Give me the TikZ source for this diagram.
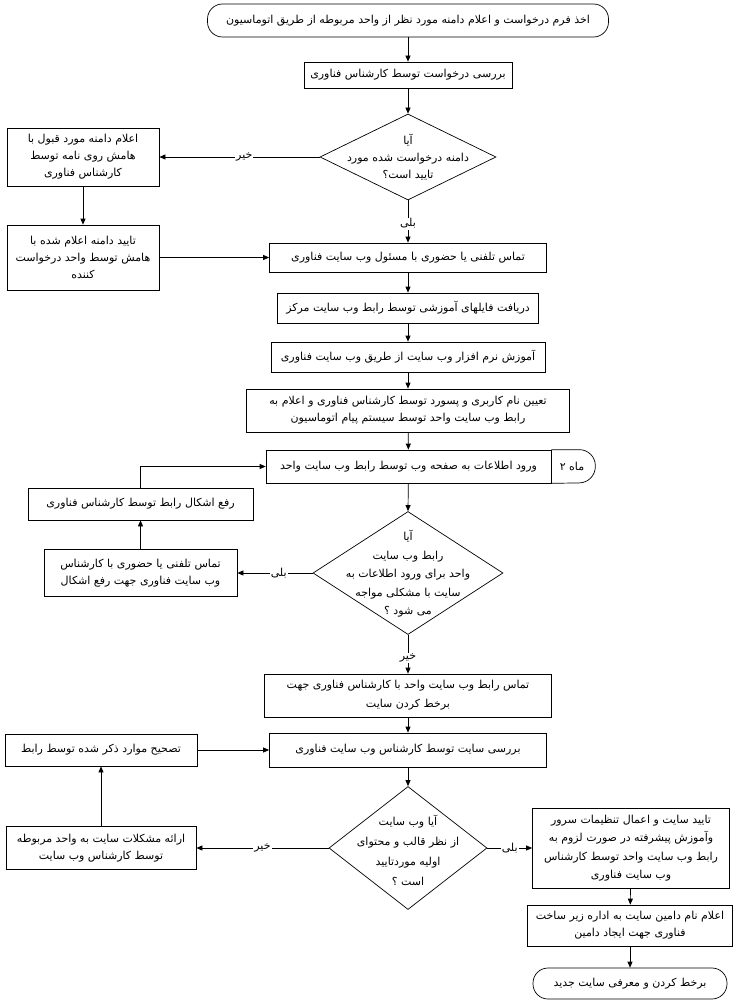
\documentclass[tikz,border=0pt]{standalone}
\usepackage{fontspec}
\usetikzlibrary{shapes.geometric,arrows.meta}
\newfontfamily\arabicfont[Script=Arabic]{DejaVu Sans}
\TeXXeTstate=1
\newcommand\rl[1]{\beginR #1\endR}
\begin{document}
\begin{tikzpicture}[x=1pt,y=-1pt,
  every node/.style={font=\arabicfont\fontsize{11}{17}\selectfont},
  box/.style={draw, line width=0.7pt, inner sep=0pt, align=center},
  term/.style={box, rounded corners=15pt},
  dia/.style={draw, diamond, line width=0.7pt, inner sep=0pt},
  dtext/.style={align=center, inner sep=0pt},
  wide/.style={font=\arabicfont\fontsize{11}{20}\selectfont},
  arr/.style={line width=0.7pt, -{Triangle[length=6pt,width=5pt]}},
  lbl/.style={fill=white, inner sep=1pt}]
\useasboundingbox (0,0) rectangle (737,1006);

% main column
\node[term, minimum width=401pt, minimum height=33pt] (start) at (408,20.5)
  {\rl{اخذ فرم درخواست و اعلام دامنه مورد نظر از واحد مربوطه از طریق اتوماسیون}};
\node[box, minimum width=208pt, minimum height=26pt] (n2) at (408,75)
  {\rl{بررسی درخواست توسط کارشناس فناوری}};
\node[dia, minimum width=176pt, minimum height=86pt] (d1) at (408,157) {};
\node[dtext] (d1t) at (408,157) {\rl{آیا}\\\rl{دامنه درخواست شده مورد}\\\rl{تایید است؟}};
\node[box, minimum width=152pt, minimum height=58pt] (l1) at (83,157)
  {\rl{اعلام دامنه مورد قبول با}\\\rl{هامش روی نامه توسط}\\\rl{کارشناس فناوری}};
\node[box, minimum width=152pt, minimum height=65pt] (l2) at (83,257.5)
  {\rl{تایید دامنه اعلام شده با}\\\rl{هامش توسط واحد درخواست}\\\rl{کننده}};
\node[box, minimum width=277pt, minimum height=29pt] (n6) at (408,257.5)
  {\rl{تماس تلفنی یا حضوری با مسئول وب سایت فناوری}};
\node[box, minimum width=261pt, minimum height=30pt] (n7) at (408,308)
  {\rl{دریافت فایلهای آموزشی توسط رابط وب سایت مرکز}};
\node[box, minimum width=274pt, minimum height=30pt] (n8) at (408,357)
  {\rl{آموزش نرم افزار وب سایت از طریق وب سایت فناوری}};
\node[box, minimum width=323pt, minimum height=43pt] (n9) at (408,410.5)
  {\rl{تعیین  نام کاربری و پسورد توسط کارشناس فناوری و اعلام به}\\\rl{رابط وب سایت واحد توسط سیستم پیام اتوماسیون}};
\node[box, minimum width=285pt, minimum height=33pt] (n10) at (408.5,466.5)
  {\rl{ورود اطلاعات به صفحه وب توسط رابط وب سایت واحد}};
\draw[line width=0.7pt, rounded corners=16pt] (n10.north east) -- ++(44,0) -- ++(0,33) -- (n10.south east);
\node[inner sep=0pt] (delay) at (572,466.5) {\rl{ماه ۲}};
\node[box, minimum width=225pt, minimum height=32pt] (n11) at (140.5,504)
  {\rl{رفع اشکال رابط توسط کارشناس فناوری}};
\node[dia, minimum width=190pt, minimum height=123pt] (d2) at (408,573) {};
\node[dtext, font=\arabicfont\fontsize{11}{18.5}\selectfont] (d2t) at (408,574) {\rl{آیا}\\\rl{رابط وب سایت}\\\rl{واحد برای ورود اطلاعات به}\\\rl{سایت با مشکلی مواجه}\\\rl{می شود ؟}};
\node[box, minimum width=193pt, minimum height=47pt] (n13) at (140.5,573)
  {\rl{تماس تلفنی یا حضوری با کارشناس}\\\rl{وب سایت فناوری جهت رفع اشکال}};
\node[box, minimum width=287pt, minimum height=43pt, font=\arabicfont\fontsize{11}{19}\selectfont] (n14) at (408,695.5)
  {\rl{تماس رابط وب سایت واحد با کارشناس فناوری جهت}\\\rl{برخط کردن سایت}};
\node[box, minimum width=277pt, minimum height=34pt] (n15) at (408,750)
  {\rl{بررسی سایت توسط کارشناس وب سایت فناوری}};
\node[box, minimum width=192pt, minimum height=32pt] (n16) at (101,750)
  {\rl{تصحیح موارد ذکر شده توسط رابط}};
\node[dia, minimum width=158pt, minimum height=123pt] (d3) at (408,848) {};
\node[dtext, wide] (d3t) at (408,850) {\rl{آیا وب سایت}\\\rl{از نظر قالب و محتوای}\\\rl{اولیه موردتایید}\\\rl{است ؟}};
\node[box, minimum width=190pt, minimum height=43pt] (n18) at (101,848)
  {\rl{ارائه مشکلات سایت به واحد مربوطه}\\\rl{توسط کارشناس وب سایت}};
\node[box, minimum width=197pt, minimum height=80pt, font=\arabicfont\fontsize{11}{18.5}\selectfont] (n19) at (631,848)
  {\rl{تایید سایت و اعمال تنظیمات سرور}\\\rl{وآموزش پیشرفته در صورت لزوم به}\\\rl{رابط وب سایت واحد توسط کارشناس}\\\rl{وب سایت فناوری}};
\node[box, minimum width=205pt, minimum height=41pt] (n20) at (630,925.5)
  {\rl{اعلام نام دامین سایت به اداره زیر ساخت}\\\rl{فناوری جهت ایجاد دامین}};
\node[term, minimum width=194pt, minimum height=31pt] (end) at (630,983.5)
  {\rl{برخط کردن و معرفی سایت جدید}};

% connectors
\draw[arr] (start) -- (n2);
\draw[arr] (n2) -- (d1);
\draw[arr] (d1.west) -- node[lbl, pos=0.47] {\rl{خیر}} (l1.east);
\draw[arr] (d1.south) -- node[lbl, pos=0.55] {\rl{بلی}} (n6.north);
\draw[arr] (l1) -- (l2);
\draw[arr] (l2.east) -- (n6.west);
\draw[arr] (n6) -- (n7);
\draw[arr] (n7) -- (n8);
\draw[arr] (n8) -- (n9);
\draw[arr] (n9) -- (n10);
\draw[arr] (n10) -- (d2.north);
\draw[arr] (d2.west) -- node[lbl, pos=0.45] {\rl{بلی}} (n13.east);
\draw[arr] (n13) -- (n11);
\draw[arr] (n11.north) |- (n10.west);
\draw[arr] (d2.south) -- node[lbl, pos=0.6] {\rl{خیر}} (n14.north);
\draw[arr] (n14) -- (n15);
\draw[arr] (n15) -- (d3.north);
\draw[arr] (d3.west) -- node[lbl, pos=0.5] {\rl{خیر}} (n18.east);
\draw[arr] (n18) -- (n16);
\draw[arr] (n16) -- (n15);
\draw[arr] (d3.east) -- node[lbl, pos=0.5] {\rl{بلی}} (n19.west);
\draw[arr] (n19) -- (n20);
\draw[arr] (n20) -- (end);
\end{tikzpicture}
\end{document}
